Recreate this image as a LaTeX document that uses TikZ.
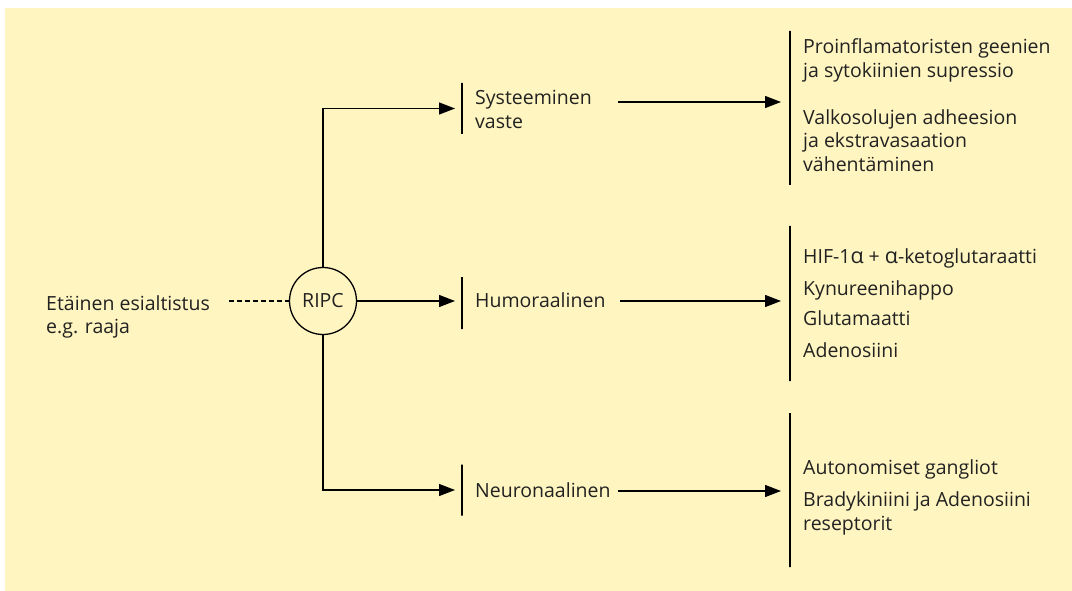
\documentclass[tikz,border=0pt]{standalone}
\usepackage{fontspec}
\setmainfont{Open Sans}
\usetikzlibrary{arrows.meta}
\definecolor{bgyellow}{RGB}{255,245,192}
\definecolor{txt}{RGB}{34,34,34}
\tikzset{
  lbl/.style={font=\fontsize{19.5}{23.5}\selectfont, inner sep=0pt, text=txt, align=left, anchor=base west},
  conn/.style={line width=1.3pt},
  arr/.style={conn, -{Triangle[length=16pt,width=12pt]}},
  barnode/.style={draw, line width=1.3pt, minimum width=0pt, minimum height=#1, inner sep=0pt, outer sep=0pt},
}
\begin{document}
\begin{tikzpicture}[x=1pt,y=-1pt]
\useasboundingbox (0,0) rectangle (1072,591);
\fill[white] (0,0) rectangle (1072,591);
\fill[bgyellow] (5,8) rectangle (1072,591);

% source and RIPC (base anchor = baseline of last line)
\node[lbl] (src) at (46,333.5) {Etäinen esialtistus\\e.g. raaja};
\node[circle, draw, line width=1.3pt, minimum size=67pt, inner sep=0pt,
      font=\fontsize{19.5}{22}\selectfont, text=txt] (ripc) at (323,301) {RIPC};
\coordinate (dstart) at (229,301);
\draw[line width=1.1pt, dash pattern=on 4.5pt off 3.5pt] (dstart) -- (ripc.west);

% middle bars
\node[barnode=51pt] (b1) at (462,108.5) {};
\node[barnode=52pt] (b2) at (462,303) {};
\node[barnode=51pt] (b3) at (462,490) {};

\node[lbl] (m1) at (475,128.5) {Systeeminen\\vaste};
\node[lbl] (m2) at (475,307.5) {Humoraalinen};
\node[lbl] (m3) at (475,497.5) {Neuronaalinen};

% connectors from RIPC
\draw[arr] (ripc.north) |- ([xshift=-7pt]b1.west);
\draw[arr] (ripc.east) -- ([xshift=-7pt]ripc.east -| b2.west);
\draw[arr] (ripc.south) |- ([xshift=-7pt]b3.west);

% right bars
\node[barnode=154pt] (r1) at (790,108) {};
\node[barnode=155pt] (r2) at (790,303.5) {};
\node[barnode=154pt] (r3) at (790,490) {};

% arrows to right
\coordinate (s1) at (618,102);
\coordinate (s2) at (620,301);
\coordinate (s3) at (618,491);
\draw[arr] (s1) -- ([xshift=-9pt]s1 -| r1.west);
\draw[arr] (s2) -- ([xshift=-9pt]s2 -| r2.west);
\draw[arr] (s3) -- ([xshift=-9pt]s3 -| r3.west);

% right texts
\node[lbl] (t1) at (803,171.5) {Proinflamatoristen geenien\\ja sytokiinien supressio\\[23.5pt]Valkosolujen adheesion\\ja ekstravasaation\\vähentäminen};
\node[lbl] (t2) at (803,357) {HIF-1{\fontsize{21.5}{23.5}\selectfont α} + {\fontsize{21.5}{23.5}\selectfont α}-ketoglutaraatti\\[8pt]Kynureenihappo\\[7pt]Glutamaatti\\[8pt]Adenosiini};
\node[lbl] (t3) at (803,530) {Autonomiset gangliot\\[8.5pt]Bradykiniini ja Adenosiini\\reseptorit};
\end{tikzpicture}
\end{document}
